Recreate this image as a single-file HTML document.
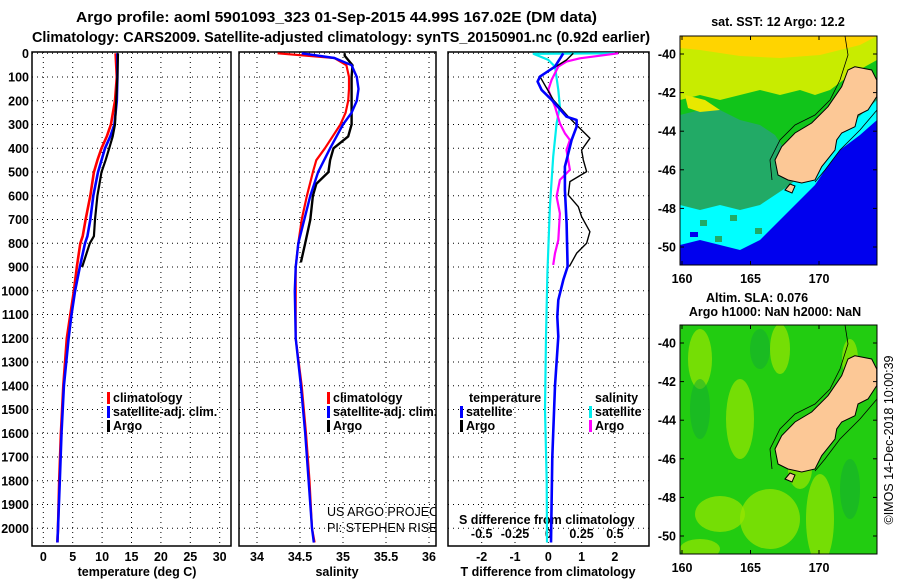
<!DOCTYPE html>
<html><head><meta charset="utf-8"><style>
body{margin:0;background:#fff;}
svg{display:block;font-family:"Liberation Sans",sans-serif;}
.b{font-weight:bold;font-size:12.5px;}
.t{font-weight:bold;font-size:14.5px;}
</style></head><body>
<svg id="c" width="900" height="580" viewBox="0 0 900 580">
<defs>
<clipPath id="m1"><rect x="680" y="36" width="197" height="229"/></clipPath>
<clipPath id="m2"><rect x="680" y="325" width="197" height="229"/></clipPath>
<clipPath id="p2"><rect x="239" y="52" width="197" height="494"/></clipPath>
</defs>
<text class="t" x="76" y="22" textLength="521" lengthAdjust="spacingAndGlyphs">Argo profile: aoml 5901093_323 01-Sep-2015 44.99S 167.02E (DM data)</text>
<text class="t" x="32" y="42" textLength="618" lengthAdjust="spacingAndGlyphs">Climatology: CARS2009. Satellite-adjusted climatology: synTS_20150901.nc (0.92d earlier)</text>
<g id="g"></g>
</svg>
<script>
// Panel 1: temperature
const tDepth=[0,100,200,300,350,400,450,500,600,700,770,800,900,1000,1100,1200,1400,1600,1800,2000,2060];
const tClim=[12.3,12.5,12.2,11.5,10.8,9.9,9.2,8.6,8.0,7.2,6.7,6.3,5.7,5.2,4.6,4.0,3.4,3.0,2.7,2.5,2.4];
const tSat=[12.6,12.6,12.5,12.1,11.4,10.5,9.9,9.3,8.5,8.0,7.5,7.1,6.2,5.4,4.8,4.3,3.5,3.1,2.8,2.5,2.4];
const tArgo=[12.7,12.6,12.4,12.2,11.8,11.2,10.6,9.9,9.2,8.8,8.6,7.9,6.6];
// Panel 2: salinity
const sDepth=[0,20,50,100,150,200,250,300,400,450,500,600,700,800,900,1000,1200,1400,1600,1800,2000,2060];
const sClim=[34.24,34.9,35.04,35.07,35.07,35.06,35.03,34.97,34.79,34.69,34.65,34.58,34.52,34.48,34.45,34.45,34.45,34.52,34.57,34.61,34.64,34.67];
const sSat=[34.52,34.9,35.1,35.16,35.18,35.16,35.1,35.0,34.85,34.78,34.71,34.62,34.55,34.48,34.45,34.44,34.45,34.51,34.56,34.6,34.64,34.66];
const sArgoDepth=[0,10,50,100,200,300,350,400,450,500,550,600,700,800,880];
const sArgo=[35.02,35.02,35.11,35.1,35.1,35.1,35.06,34.89,34.85,34.83,34.69,34.65,34.62,34.56,34.51];
// Panel 3: differences
const dTArgoDepth=[0,28,98,196,267,309,358,407,449,498,540,597,646,688,751,800,842,898];
const dTArgo=[0.75,0.55,-0.25,0.15,0.6,0.9,1.25,1.0,1.05,1.15,0.65,0.6,0.9,1.0,1.25,1.15,0.85,0.63];
const dTSatDepth=[0,56,98,119,154,196,267,281,309,365,421,477,575,716,898,954,1039,1109,1193,1400,1700,2060];
const dTSat=[0.45,0.2,-0.25,-0.32,-0.2,0.1,0.55,0.85,0.85,0.7,0.6,0.5,0.5,0.55,0.58,0.45,0.3,0.27,0.3,0.2,0.12,0.08];
const dSSatDepth=[0,2,28,56,154,225,295,435,646,926,1193,1500,1800,2060];
const dSSat=[0.5,-0.11,0,0.05,0.075,0.087,0.062,0.037,0.012,-0.007,-0.017,-0.025,-0.012,-0.01];
const dSArgoDepth=[0,21,35,56,112,154,225,295,337,365,407,491,533,603,674,786,842,891];
const dSArgo=[0.525,0.237,0.137,0.075,0.025,0,0.05,0.087,0.125,0.162,0.137,0.162,0.087,0.062,0.087,0.075,0.05,0.037];
// ticks
const depthTicks=[0,100,200,300,400,500,600,700,800,900,1000,1100,1200,1300,1400,1500,1600,1700,1800,1900,2000];
const tTicks=[0,5,10,15,20,25,30];
const sTicks=[34,34.5,35,35.5,36];
const dTTicks=[-2,-1,0,1,2];
const dSTickLabels=["-0.5","-0.25","0","0.25","0.5"];
const latTicks=[-40,-42,-44,-46,-48,-50];
const lonTicks=[160,165,170];

const NS="http://www.w3.org/2000/svg";
const G=document.getElementById('g');
function mk(tag,at,parent){const e=document.createElementNS(NS,tag);for(const k in at)e.setAttribute(k,at[k]);(parent||G).appendChild(e);return e;}
function txt(s,x,y,cls,anchor,name,extra){const e=mk('text',Object.assign({x:x,y:y,class:cls||'b','text-anchor':anchor||'start'},extra||{}));e.textContent=s;


return e;}
const Y=d=>53.3+0.2375*d;
const xT=t=>43.3+5.88*t;
const xS=s=>257+86*(s-34);
const xD=d=>548.3+33.3*d;
const xDS=s=>548.3+133.2*s;
const panels=[[32,231],[239,436],[448,649]];
const TOP=52,BOT=546;
function vgrid(x){const l=mk('line',{x1:x,x2:x,y1:TOP,y2:BOT,stroke:'#000','stroke-width':1,'stroke-dasharray':'1,4'});

}
tTicks.forEach(t=>vgrid(xT(t)));
sTicks.forEach(s=>vgrid(xS(s)));
dTTicks.forEach(d=>vgrid(xD(d)));
panels.forEach((p,i)=>{depthTicks.forEach(d=>{const l=mk('line',{x1:p[0],x2:p[1],y1:Y(d),y2:Y(d),stroke:'#000','stroke-width':1,'stroke-dasharray':'1,4'});

});
const r=mk('rect',{x:p[0],y:TOP,width:p[1]-p[0],height:BOT-TOP,fill:'none',stroke:'#000','stroke-width':1.5});

});
depthTicks.forEach(d=>txt(String(d),29,Y(d)+4.5,'b','end','depth-tick-label'));
tTicks.forEach(t=>txt(String(t),xT(t),561,'b','middle','temperature-tick-label'));
sTicks.forEach(s=>txt(String(s),xS(s),561,'b','middle','salinity-tick-label'));
dTTicks.forEach(d=>txt(String(d),xD(d),561,'b','middle','t-diff-tick-label'));
dSTickLabels.forEach((s,i)=>txt(s,xD(dTTicks[i]),538,'b','middle','s-diff-tick-label'));
txt('temperature (deg C)',137,576,'b','middle','x-axis-title-temperature');
txt('salinity',337,576,'b','middle','x-axis-title-salinity');
txt('T difference from climatology',548,576,'b','middle','x-axis-title-t-diff');
txt('S difference from climatology',459,524,'b','start','s-diff-axis-title');
function line(ds,vs,fx,color,w,name,clip){const pts=ds.map((d,i)=>fx(vs[i]).toFixed(1)+','+Y(d).toFixed(1)).join(' ');
const a={points:pts,fill:'none',stroke:color,'stroke-width':w,'stroke-linejoin':'round'};if(clip)a['clip-path']=clip;
const e=mk('polyline',a);

}
line(tDepth,tClim,xT,'#f00',2.6,'temperature-climatology-line');
line(tDepth,tSat,xT,'#00f',2.6,'temperature-satellite-line');
line(tDepth.slice(0,tArgo.length),tArgo,xT,'#000',2.2,'temperature-argo-line');
line(sDepth,sClim,xS,'#f00',2.2,'salinity-climatology-line');
line(sArgoDepth,sArgo,xS,'#000',2.4,'salinity-argo-line');
line(sDepth,sSat,xS,'#00f',2.4,'salinity-satellite-line');
line(dSSatDepth,dSSat,xDS,'#0ee',2.2,'s-diff-satellite-line');
line(dSArgoDepth,dSArgo,xDS,'#f0f',2.2,'s-diff-argo-line');
line(dTArgoDepth,dTArgo,xD,'#000',1.4,'t-diff-argo-line');
line(dTSatDepth,dTSat,xD,'#00f',2.6,'t-diff-satellite-line');
function leg(x,y,color,label,name){const r=mk('rect',{x:x,y:y-10,width:3,height:12,fill:color});


txt(label,x+6,y,'b','start',name);}
leg(107,402,'#f00','climatology','legend-climatology');
leg(107,416,'#00f','satellite-adj. clim.','legend-satellite-adj');
leg(107,430,'#000','Argo','legend-argo');
const lg2=mk('g',{'clip-path':'url(#p2)'});
[['#f00','climatology',402],['#00f','satellite-adj. clim.',416],['#000','Argo',430]].forEach(a=>{
const r=mk('rect',{x:327,y:a[2]-10,width:3,height:12,fill:a[0]},lg2);


const t=mk('text',{x:333,y:a[2],class:'b'},lg2);t.textContent=a[1];

});
[['US ARGO PROJECT',516],['PI: STEPHEN RISER',532]].forEach(a=>{const t=mk('text',{x:327,y:a[1],'font-size':'12.5px'},lg2);t.textContent=a[0];

});
txt('temperature',469,402,'b','start','legend-temperature-header');
txt('salinity',595,402,'b','start','legend-salinity-header');
leg(460,416,'#00f','satellite','legend-t-satellite');
leg(460,430,'#000','Argo','legend-t-argo');
leg(589,416,'#0ee','satellite','legend-s-satellite');
leg(589,430,'#f0f','Argo','legend-s-argo');

// Maps
const lonX=l=>682+13.7*(l-160);
function map(oy,clip,kind){
const g=mk('g',{'clip-path':'url(#'+clip+')'});


const P=(a)=>a.map(p=>p[0]+','+(p[1]+oy)).join(' ');
if(kind==='sst'){
mk('rect',{x:680,y:36+oy,width:197,height:229,fill:'#0000ee'},g);
mk('polygon',{points:P([[680,36],[877,36],[877,120],[860,135],[840,150],[825,170],[815,185],[805,195],[790,210],[775,225],[760,240],[740,250],[720,245],[700,240],[680,245]]),fill:'#00ffff'},g);
mk('polygon',{points:P([[680,36],[877,36],[877,100],[850,125],[820,150],[805,170],[790,185],[775,195],[760,205],[740,210],[720,205],[700,210],[680,205]]),fill:'#22aa66'},g);
mk('polygon',{points:P([[680,36],[877,36],[877,80],[850,100],[815,125],[800,140],[785,150],[775,135],[760,125],[740,120],[720,110],[700,110],[680,115]]),fill:'#11c41a'},g);
mk('polygon',{points:P([[680,36],[877,36],[877,60],[850,75],[830,90],[815,95],[800,90],[780,95],[760,90],[740,95],[720,100],[700,95],[680,100]]),fill:'#c8ec00'},g);
mk('polygon',{points:P([[680,36],[877,36],[860,45],[820,55],[780,58],[740,56],[700,50],[680,48]]),fill:'#ffd400'},g);
mk('polygon',{points:P([[685,95],[705,100],[720,110],[700,112],[688,108]]),fill:'#e8e800'},g);
[[700,245],[720,258],[745,252],[760,262],[690,232]].forEach(p=>mk('rect',{x:p[0],y:p[1]+oy,width:8,height:5,fill:'#0000ee'},g));
[[700,220],[730,215],[755,228],[715,236]].forEach(p=>mk('rect',{x:p[0],y:p[1]+oy,width:7,height:6,fill:'#22aa66'},g));
}else{
mk('rect',{x:680,y:36+oy,width:197,height:229,fill:'#22cc11'},g);
[[740,130,14,40],[700,70,12,30],[820,230,14,45],[720,225,25,18],[770,230,30,30],[780,60,10,25],[700,260,20,10],[800,180,12,20],[850,70,8,20]].forEach(e=>mk('ellipse',{cx:e[0],cy:e[1]+oy,rx:e[2],ry:e[3],fill:'#99e600','fill-opacity':0.7},g));
[[700,120,10,30],[760,60,10,20],[850,200,10,30]].forEach(e=>mk('ellipse',{cx:e[0],cy:e[1]+oy,rx:e[2],ry:e[3],fill:'#11aa33','fill-opacity':0.5},g));
}
const isl=[[855,66.7],[871.7,70],[876.7,80],[876.7,96.7],[868,110],[858,115],[855,126.7],[841.7,133],[836.7,140],[835,150],[821.7,166.7],[815,180],[801.7,183],[788,180],[778,175],[775,160],[781.7,146.7],[795,133],[811.7,123],[828,106.7],[841.7,86.7],[848,70]];
const pi=mk('polygon',{points:P(isl),fill:'#fcc896',stroke:'#000','stroke-width':1},g);


mk('polygon',{points:P([[785,190],[790,184],[795,186],[792,193]]),fill:'#fcc896',stroke:'#000','stroke-width':1},g);
mk('polyline',{points:P([[845,36],[848,55],[840,80],[830,100],[815,115],[795,125],[780,140],[770,160],[772,180]]),fill:'none',stroke:'#000','stroke-width':0.8},g);
mk('polyline',{points:P([[877,110],[860,130],[840,150],[825,170],[815,182]]),fill:'none',stroke:'#000','stroke-width':0.8},g);
const br=mk('rect',{x:680,y:36+oy,width:197,height:229,fill:'none',stroke:'#000','stroke-width':1});


latTicks.forEach(l=>{const y=54+19.3*(-40-l)+oy;mk('line',{x1:680,x2:684,y1:y,y2:y,stroke:'#000'});mk('line',{x1:873,x2:877,y1:y,y2:y,stroke:'#000'});txt(String(l),676,y+4.5,'b','end','latitude-tick-label');});
lonTicks.forEach(l=>{const x=lonX(l);mk('line',{x1:x,x2:x,y1:36+oy,y2:40+oy,stroke:'#000'});mk('line',{x1:x,x2:x,y1:261+oy,y2:265+oy,stroke:'#000'});txt(String(l),x,283+oy,'b','middle','longitude-tick-label');});
}
map(0,'m1','sst');
map(289,'m2','sla');
txt('sat. SST: 12 Argo: 12.2',778,26,'b','middle','sst-map-title');
txt('Altim. SLA: 0.076',757,302,'b','middle','sla-map-title');
txt('Argo h1000: NaN h2000: NaN',775,316,'b','middle','sla-map-subtitle');
txt('©IMOS 14-Dec-2018 10:00:39',893,440,'b','middle','timestamp-credit',{transform:'rotate(-90 893 440)',style:'font-weight:normal;font-size:12.5px'});
</script>
</body></html>
